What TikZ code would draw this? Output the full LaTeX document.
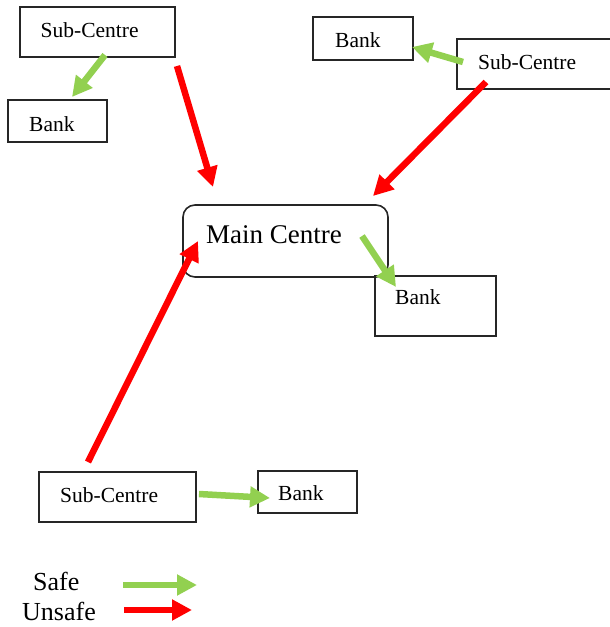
\documentclass[tikz,border=0pt]{standalone}
\usepackage{fontspec}
\setmainfont{Liberation Serif}
\usetikzlibrary{arrows.meta}
\definecolor{safegreen}{HTML}{92D050}
\definecolor{unsafered}{HTML}{FF0000}
\tikzset{
  boxshape/.style={draw=black!85, line width=1.6pt, rectangle},
  boxtext/.style={anchor=base west, inner sep=0pt, font=\fontsize{21.5}{24}\selectfont},
  safearrow/.style={draw=safegreen, line width=6.5pt, -{Triangle[length=20pt,width=20pt]}},
  unsafearrow/.style={draw=unsafered, line width=6.5pt, -{Triangle[length=20pt,width=20pt]}},
}
\begin{document}
\begin{tikzpicture}[x=1pt,y=-1pt]
\useasboundingbox (0,0) rectangle (610,627);
% boxes
\node[boxshape, minimum width=155pt, minimum height=50pt] (tlsub) at (97.5,32) {};
\node[boxtext] (tlsubt) at (40.5,37) {Sub-Centre};
\node[boxshape, minimum width=99pt, minimum height=42pt] (tlbank) at (57.5,121) {};
\node[boxtext] (tlbankt) at (29,131) {Bank};
\node[boxshape, minimum width=100pt, minimum height=43pt] (trbank) at (363,38.5) {};
\node[boxtext] (trbankt) at (335,47) {Bank};
\node[boxshape, minimum width=160pt, minimum height=50pt] (trsub) at (537,64) {};
\node[boxtext] (trsubt) at (478,69) {Sub-Centre};
\node[boxshape, rounded corners=12pt, minimum width=205pt, minimum height=72pt] (main) at (285.5,241) {};
\node[anchor=base west, inner sep=0pt, font=\fontsize{27}{30}\selectfont] (maint) at (206,243) {Main Centre};
\node[boxshape, minimum width=121pt, minimum height=60pt] (cbank) at (435.5,306) {};
\node[boxtext] (cbankt) at (395,304) {Bank};
\node[boxshape, minimum width=157pt, minimum height=50pt] (bsub) at (117.5,497) {};
\node[boxtext] (bsubt) at (60,502) {Sub-Centre};
\node[boxshape, minimum width=99pt, minimum height=42pt] (bbank) at (307.5,492) {};
\node[boxtext] (bbankt) at (278,500) {Bank};
% arrow end points
\coordinate (a1s) at (105,55);   \coordinate (a1e) at (72,97);
\coordinate (a2s) at (177,66);   \coordinate (a2e) at (213,187);
\coordinate (a3s) at (463,62);   \coordinate (a3e) at (412,47);
\coordinate (a4s) at (486,82);   \coordinate (a4e) at (373,196);
\coordinate (a5s) at (362,236);  \coordinate (a5e) at (396,287);
\coordinate (a6s) at (88,462);   \coordinate (a6e) at (198,241);
\coordinate (a7s) at (199,494);  \coordinate (a7e) at (270,498);
% arrows
\draw[safearrow] (a1s) -- (a1e);
\draw[unsafearrow] (a2s) -- (a2e);
\draw[safearrow] (a3s) -- (a3e);
\draw[unsafearrow] (a4s) -- (a4e);
\draw[safearrow] (a5s) -- (a5e);
\draw[unsafearrow] (a6s) -- (a6e);
\draw[safearrow] (a7s) -- (a7e);
% legend
\node[anchor=base west, inner sep=0pt, font=\fontsize{26}{28}\selectfont] (safe) at (33,590) {Safe};
\node[anchor=base west, inner sep=0pt, font=\fontsize{26}{28}\selectfont] (unsafe) at (22,620) {Unsafe};
\coordinate (lgs) at (123,585); \coordinate (lge) at (197,585);
\coordinate (lrs) at (124,610); \coordinate (lre) at (192,610);
\draw[safearrow] (lgs) -- (lge);
\draw[unsafearrow] (lrs) -- (lre);
\end{tikzpicture}
\end{document}
